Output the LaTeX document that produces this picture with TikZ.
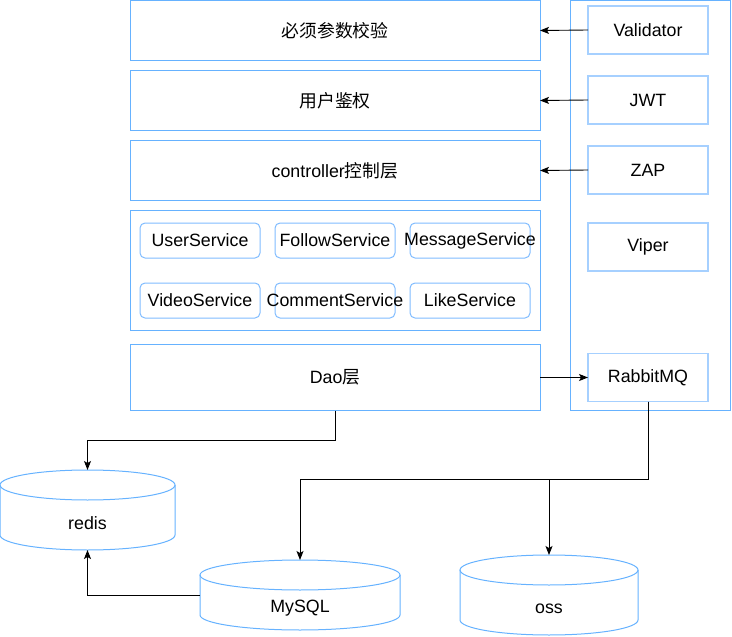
\documentclass[tikz,border=0pt]{standalone}
\usepackage{fontspec}
\setmainfont{Liberation Sans}
\newfontfamily\cjk{Noto Sans CJK SC}
\usetikzlibrary{positioning, arrows.meta, calc}
\definecolor{layerblue}{HTML}{66B2FF}
\definecolor{toolblue}{HTML}{A6D0FF}
\definecolor{svcblue}{HTML}{80BCFF}
\newcommand{\fixw}[1]{\makebox[0pt]{#1}}
% cylinder outline round a named store node: name, x radius
\newcommand{\dbshape}[2]{%
  \draw[draw=layerblue, line width=1pt] ($(#1.north)+(0,15)$) ellipse [x radius=#2pt, y radius=15pt];
  \draw[draw=layerblue, line width=1pt] ($(#1.north west)+(0,15)$) -- ($(#1.south west)+(0,-15)$)
    arc [start angle=180, end angle=360, x radius=#2pt, y radius=15pt] -- ($(#1.north east)+(0,15)$);}
\tikzset{
  layer/.style={draw=layerblue, line width=1pt, minimum width=410pt, minimum height=60pt, inner sep=0pt, outer sep=0pt},
  tool/.style={draw=toolblue, line width=1.6pt, minimum width=120pt, minimum height=48pt, inner sep=0pt, outer sep=0pt},
  svc/.style={draw=svcblue, line width=1pt, rounded corners=5pt, minimum width=120pt, minimum height=35pt, inner sep=0pt, outer sep=0pt},
  store/.style={minimum height=80pt, inner sep=0pt, outer sep=0pt},
  link/.style={-{Stealth[length=9pt, width=7pt, inset=2pt]}, line width=0.9pt},
}
\begin{document}
\begin{tikzpicture}[x=1pt, y=-1pt, font=\fontsize{17.8}{21}\selectfont, node distance=10pt]
\useasboundingbox (0,0) rectangle (732,637);
% left layers
\node[layer] (chk) at (335,30.5) {\cjk 必须参数校验};
\node[layer, below=of chk] (auth) {\cjk 用户鉴权};
\node[layer, below=of auth] (ctrl) {controller{\cjk 控制层}};
\node[layer, below=of ctrl, minimum height=120pt] (svcs) {};
\node[layer, below=14pt of svcs, minimum height=66pt] (dao) {Dao{\cjk 层}};
% services
\node[svc] (us) at (200,240.5) {\fixw{UserService}};
\node[svc, right=15pt of us] (fs) {\fixw{FollowService}};
\node[svc, right=15pt of fs] (ms) {\fixw{MessageService}};
\node[svc] (vs) at (200,300.5) {\fixw{VideoService}};
\node[svc, right=15pt of vs] (cs) {\fixw{CommentService}};
\node[svc, right=15pt of cs] (ls) {\fixw{LikeService}};
% right column
\node[layer, minimum width=160pt, minimum height=410pt] (base) at (650,205.5) {};
\node[tool] (val) at (648,30) {Validator};
\node[tool, below=22pt of val] (jwt) {JWT};
\node[tool, below=22pt of jwt] (zap) {ZAP};
\node[tool, below=29pt of zap] (viper) {Viper};
\node[tool] (mq) at (648,377.5) {RabbitMQ};
% stores
\node[store, minimum width=175pt, label={[yshift=-13pt]center:redis}] (redis) at (87.5,510) {};
\node[store, minimum width=200pt, minimum height=70pt, label={[yshift=-13pt]center:MySQL}] (mysql) at (300,595) {};
\node[store, minimum width=178pt, label={[yshift=-14pt]center:oss}] (oss) at (549,595) {};
\dbshape{redis}{87.5}
\dbshape{mysql}{100}
\dbshape{oss}{89}
% links
\draw[link] (val.west) -- (chk.east);
\draw[link] (jwt.west) -- (auth.east);
\draw[link] (zap.west) -- (ctrl.east);
\draw[link] (dao.east) -- (mq.west);
\draw[link] (dao.south) -- ++(0,30) -| (redis.north);
\draw[link] (mysql.west) -| (redis.south);
\draw[link] (mq.south) -- ++(0,78) -| (mysql.north);
\draw[link] (mq.south) -- ++(0,78) -| (oss.north);
\end{tikzpicture}
\end{document}
